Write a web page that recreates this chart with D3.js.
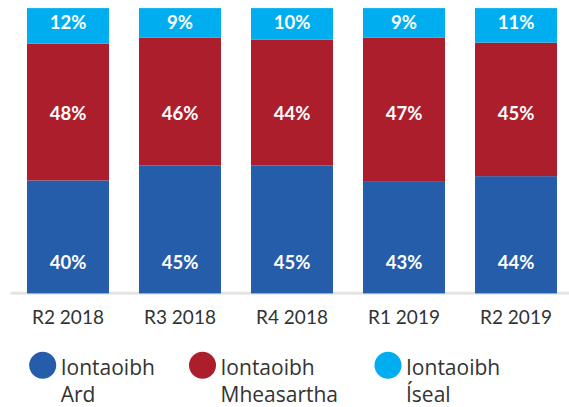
<!DOCTYPE html>
<html><head><meta charset="utf-8">
<script src="https://cdn.jsdelivr.net/npm/d3@7"></script>
<style>body{margin:0;background:#fff}svg{display:block}</style>
</head><body>
<svg id="c" width="569" height="407"></svg>
<script>
const categories = ["R2 2018","R3 2018","R4 2018","R1 2019","R2 2019"];
const seriesNames = ["Iontaoibh Ard","Iontaoibh Mheasartha","Iontaoibh Íseal"];
// bar heights as drawn in the picture (share of 100)
const ard = [39.6,44.8,44.8,39.1,41.1];
const mheasartha = [47.9,44.8,44.1,50.5,46.8];
const iseal = [12.5,10.4,11.1,10.4,12.1];
// printed labels
const ardLabels = ["40%","45%","45%","43%","44%"];
const mheasarthaLabels = ["48%","46%","44%","47%","45%"];
const isealLabels = ["12%","9%","10%","9%","11%"];
const colors = ["#265dab","#ad1e2d","#00aeef"];
const legendLines = [["Iontaoibh","Ard"],["Iontaoibh","Mheasartha"],["Iontaoibh","Íseal"]];

const svg = d3.select("#c");
const x = d3.scaleBand().domain(categories).range([12,572]).paddingInner(30/112).paddingOuter(15/112);
const y = d3.scaleLinear().domain([0,1]).range([293.4,8.1]);

const labels = [ardLabels,mheasarthaLabels,isealLabels];
const rows = categories.map((c,i)=>{
  const vals=[ard[i],mheasartha[i],iseal[i]];
  const tot=d3.sum(vals);
  const o={cat:c,idx:i}; vals.forEach((v,k)=>o["s"+k]=v/tot); return o;
});
const series = d3.stack().keys(["s0","s1","s2"])(rows);

svg.append("line").attr("x1",10.5).attr("x2",569).attr("y1",293.2).attr("y2",293.2)
  .attr("stroke","#e4e4e4").attr("stroke-width",3);

series.forEach((s,k)=>{
  svg.append("g").selectAll("rect").data(s).join("rect")
    .attr("x",d=>x(d.data.cat)).attr("width",x.bandwidth())
    .attr("y",d=>y(d[1])).attr("height",d=>y(d[0])-y(d[1]))
    .attr("fill",colors[k]);
});

const labelPos = [0.11,0.632,0.951];
series.forEach((s,k)=>{
  svg.append("g").selectAll("text").data(s).join("text")
    .attr("x",d=>x(d.data.cat)+x.bandwidth()/2)
    .attr("y",y(labelPos[k]))
    .attr("text-anchor","middle").attr("dominant-baseline","central")
    .attr("font-family","Lato").attr("font-weight","bold").attr("font-size",18.5)
    .attr("fill","#fff")
    .text(d=>labels[k][d.data.idx]);
});

const xAxis = d3.axisBottom(x).tickSize(0).tickPadding(0);
const gx = svg.append("g").attr("transform","translate(0,323.5)").call(xAxis);
gx.select(".domain").remove();
gx.selectAll("text").attr("font-family","Lato").attr("font-size",19).attr("fill","#333")
  .attr("dy",0).attr("y",0);

const legX = [42.7,202.5,388];
const lg = svg.append("g");
seriesNames.forEach((n,k)=>{
  lg.append("circle").attr("cx",legX[k]).attr("cy",365.3).attr("r",13.5).attr("fill",colors[k]);
  const t = lg.append("text").attr("font-family","Open Sans").attr("font-size",21).attr("fill","#333");
  legendLines[k].forEach((ln,j)=>{
    t.append("tspan").attr("x",legX[k]+18).attr("y",375+j*26.7).text(ln);
  });
});
</script>
</body></html>
